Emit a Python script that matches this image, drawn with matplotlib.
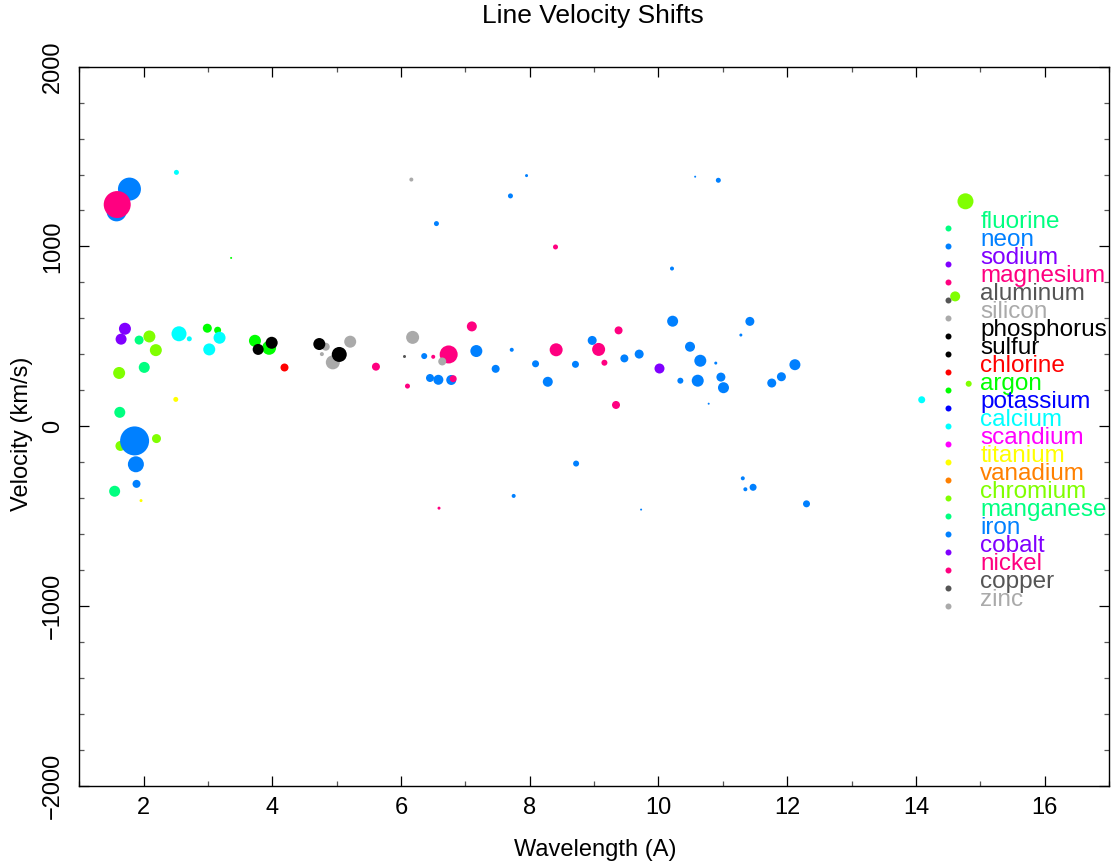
import matplotlib
matplotlib.use("Agg")
import matplotlib.pyplot as plt
from matplotlib.ticker import MultipleLocator

plt.rcParams['font.family'] = ['Liberation Sans', 'DejaVu Sans']

# Elements in legend order, with their colours
elements = ["fluorine", "neon", "sodium", "magnesium", "aluminum", "silicon",
            "phosphorus", "sulfur", "chlorine", "argon", "potassium", "calcium",
            "scandium", "titanium", "vanadium", "chromium", "manganese", "iron",
            "cobalt", "nickel", "copper", "zinc"]
colors = ["#00ff80", "#0080ff", "#8000ff", "#ff0080", "#555555", "#aaaaaa",
          "#000000", "#000000", "#ff0000", "#00ff00", "#0000ff", "#00ffff",
          "#ff00ff", "#ffff00", "#ff8000", "#80ff00", "#00ff80", "#0080ff",
          "#8000ff", "#ff0080", "#555555", "#aaaaaa"]

# Line wavelengths (A), velocity shifts (km/s) and relative line strengths
wavelength = {
    "neon": [12.12, 10.22, 9.70],
    "sodium": [10.01],
    "magnesium": [8.41, 9.07, 9.16, 7.10, 6.74],
    "aluminum": [6.05],
    "silicon": [6.18, 6.64, 6.16, 5.21, 4.94, 4.83, 4.77],
    "sulfur": [4.73, 5.04, 3.99, 3.78],
    "chlorine": [4.18],
    "argon": [3.36, 2.99, 3.15, 3.73, 3.95],
    "calcium": [2.51, 2.55, 2.71, 3.18, 3.02, 14.09],
    "titanium": [2.50, 1.96],
    "chromium": [2.09, 2.19, 1.62, 1.64, 2.20, 14.77, 14.61, 14.82],
    "manganese": [1.93, 2.01, 1.63, 1.55],
    "iron": [1.58, 1.78, 1.86, 1.88, 1.89, 7.95, 7.70, 6.55, 6.36, 7.17, 7.72,
             8.09, 7.47, 6.45, 6.58, 6.78, 8.28, 10.57, 10.93, 10.21, 11.42,
             11.28, 8.97, 8.71, 9.47, 10.49, 10.65, 10.89, 10.34, 10.61, 10.97,
             11.01, 11.76, 11.91, 10.78, 12.30, 7.75, 8.72, 9.73, 11.31, 11.35,
             11.47],
    "cobalt": [1.71, 1.65],
    "nickel": [1.59, 5.61, 6.10, 6.50, 6.59, 6.81, 8.40, 9.38, 9.34],
}
velocity = {
    "neon": [342, 584, 401],
    "sodium": [321],
    "magnesium": [425, 427, 353, 555, 399],
    "aluminum": [390],
    "silicon": [494, 360, 1372, 470, 355, 442, 401],
    "sulfur": [457, 399, 464, 427],
    "chlorine": [327],
    "argon": [936, 545, 534, 475, 436],
    "calcium": [1412, 514, 486, 492, 427, 147],
    "titanium": [149, -414],
    "chromium": [499, 423, 296, -110, -69, 1251, 722, 236],
    "manganese": [479, 327, 77, -362],
    "iron": [1195, 1319, -82, -212, -321, 1394, 1281, 1127, 390, 418, 425,
             347, 319, 268, 258, 257, 247, 1388, 1368, 877, 583,
             507, 477, 344, 377, 442, 364, 351, 253, 253, 273,
             214, 240, 275, 125, -432, -388, -208, -464, -290, -351,
             -340],
    "cobalt": [542, 484],
    "nickel": [1233, 331, 223, 386, -456, 264, 997, 533, 118],
}
strength = {
    "neon": [11, 11, 9],
    "sodium": [10],
    "magnesium": [13, 13, 6, 10, 18],
    "aluminum": [3],
    "silicon": [13, 8, 4, 12, 14, 8, 4],
    "sulfur": [12, 15, 12, 11],
    "chlorine": [8],
    "argon": [2, 9, 7, 12, 14],
    "calcium": [5, 15, 5, 12, 12, 7],
    "titanium": [5, 3],
    "chromium": [12, 12, 12, 10, 9, 16, 10, 6],
    "manganese": [9, 11, 11, 11],
    "iron": [20, 23, 29, 16, 8, 3, 5, 5, 6, 12, 4,
             7, 8, 8, 10, 10, 10, 2, 5, 4, 9,
             3, 9, 7, 8, 10, 12, 3, 6, 12, 9,
             11, 9, 9, 2, 7, 4, 6, 2, 4, 4,
             7],
    "cobalt": [12, 11],
    "nickel": [27, 8, 5, 4, 3, 7, 5, 8, 8],
}

# Drawing order of the element groups (argon goes under sulfur)
draw_order = ["fluorine", "neon", "sodium", "magnesium", "aluminum", "silicon",
              "phosphorus", "chlorine", "argon", "sulfur", "potassium",
              "calcium", "scandium", "titanium", "vanadium", "chromium",
              "manganese", "iron", "cobalt", "nickel", "copper", "zinc"]

color_of = dict(zip(elements, colors))

fig = plt.figure(figsize=(11.13, 8.67), dpi=100)
ax = fig.add_axes([0.0712, 0.0938, 0.9252, 0.8293])


def marker_area(values):
    # marker diameter grows linearly with line strength
    return [(0.72 * v) ** 2 for v in values]


for z, name in enumerate(draw_order):
    if name not in wavelength:
        continue
    ax.scatter(wavelength[name], velocity[name], s=marker_area(strength[name]),
               color=color_of[name], linewidths=0, zorder=2 + z * 0.01)

# Key: a dot and a coloured name per element, stacked in data units
key_x_dot, key_x_text = 14.5, 15.0
key_top, key_step = 1100, 100
for i, (name, col) in enumerate(zip(elements, colors)):
    yk = key_top - i * key_step
    ax.scatter([key_x_dot], [yk], s=(0.72 * 6) ** 2, color=col, linewidths=0,
               zorder=1.5)
    ax.text(key_x_text, yk, name, color=col, fontsize=17.5, ha='left',
            va='baseline', zorder=3)

ax.set_xlim(1, 17)
ax.set_ylim(-2000, 2000)
ax.xaxis.set_major_locator(MultipleLocator(2))
ax.xaxis.set_minor_locator(MultipleLocator(1))
ax.yaxis.set_major_locator(MultipleLocator(1000))
ax.yaxis.set_minor_locator(MultipleLocator(200))
ax.tick_params(which='both', direction='in', top=True, right=True, width=0.9)
ax.tick_params(which='major', length=7.5, labelsize=17)
ax.tick_params(which='minor', length=3.6, color='#555555')
ax.tick_params(axis='x', which='major', pad=8)
ax.tick_params(axis='y', which='major', pad=11)
for lab in ax.get_yticklabels():
    lab.set_rotation(90)
    lab.set_va('center')
for sp in ax.spines.values():
    sp.set_linewidth(1.0)

ax.set_xlabel("Wavelength (A)", fontsize=17)
ax.xaxis.set_label_coords(0.5008, -0.0894)
ax.xaxis.label.set_va('center')
ax.set_ylabel("Velocity (km/s)", fontsize=17)
ax.yaxis.set_label_coords(-0.0556, 0.49)
ax.yaxis.label.set_va('center')

fig.text(0.533, 1 - 16 / 867, "Line Velocity Shifts", fontsize=19,
         ha='center', va='center')

fig.savefig("out.png", dpi=100)
